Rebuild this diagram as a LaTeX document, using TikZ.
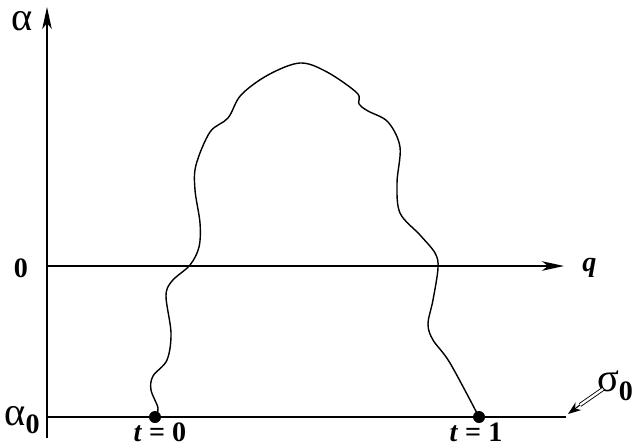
\documentclass[tikz,border=0pt]{standalone}
\usepackage{fontspec}
\setmainfont{Liberation Serif}
\usetikzlibrary{arrows.meta}

\newcommand{\bigsym}[1]{{\fontsize{23}{25}\selectfont #1}}

\begin{document}
\begin{tikzpicture}[x=0.2mm, y=-0.2mm,
	axis/.style={line width=1.3pt},
	tip/.style={-{Stealth[length=4.4mm, width=1.9mm, inset=1.2mm]}},
	lbl/.style={font=\fontsize{16}{18}\selectfont, inner sep=0pt},
	dot/.style={circle, fill, inner sep=0pt, minimum size=2.4mm}]
	\useasboundingbox (0, 0) rectangle (632, 445);
	\coordinate (o) at (47, 438);
	\coordinate (atop) at (47, 7);
	\coordinate (qleft) at (47, 266);
	\coordinate (qright) at (564, 266);
	\coordinate (bleft) at (47, 417);
	\coordinate (bright) at (566, 417);
	\draw [axis, tip] (o) -- (atop);
	\draw [axis, tip] (qleft) -- (qright);
	\draw [axis] (bleft) -- (bright);
	\node [lbl] (alpha) at (22, 21) {\bigsym{α}};
	\node [lbl] (zero) at (21, 268) {\textbf{0}};
	\node [lbl, right] (q) at (582, 268) {\textbf{\textit{q}}};
	\node [lbl] (alpha0) at (22, 420) {\bigsym{α}\raisebox{-0.6ex}{\textbf{0}}};
	\node [dot] (t0) at (155, 417) {};
	\node [dot] (t1) at (479, 417) {};
	\node [lbl] (t0lbl) at (160, 432) {\textbf{\textit{t} = 0}};
	\node [lbl] (t1lbl) at (476, 432) {\textbf{\textit{t} = 1}};
	\node [lbl] (sigma) at (615, 386) {\bigsym{σ}\raisebox{-0.7ex}{\textbf{0}}};
	\coordinate (sstart) at (603, 389);
	\coordinate (smid) at (580, 405);
	\coordinate (send) at (568, 414);
	\draw [double, double distance=1.3pt, line width=0.5pt] (sstart) -- (smid);
	\draw [line width=0.6pt, -{Stealth[length=2.6mm, width=1.9mm]}] (smid) -- (send);
	\draw [thick] plot [smooth, tension=0.55] coordinates {
		(155, 417) (158, 408) (151, 390) (153, 376) (167, 360) (171, 333)
		(166, 296) (172, 281) (190, 265) (199, 247) (200, 223) (195, 190)
		(196, 165) (210, 132) (228, 118) (241, 95) (268, 75) (300, 63)
		(327, 72) (357, 93) (359, 104) (368, 111) (388, 122) (400, 147)
		(397, 183) (400, 213) (420, 235) (435, 253) (438, 268) (433, 300)
		(428, 324) (433, 340) (450, 363) (479, 417)};
\end{tikzpicture}
\end{document}
